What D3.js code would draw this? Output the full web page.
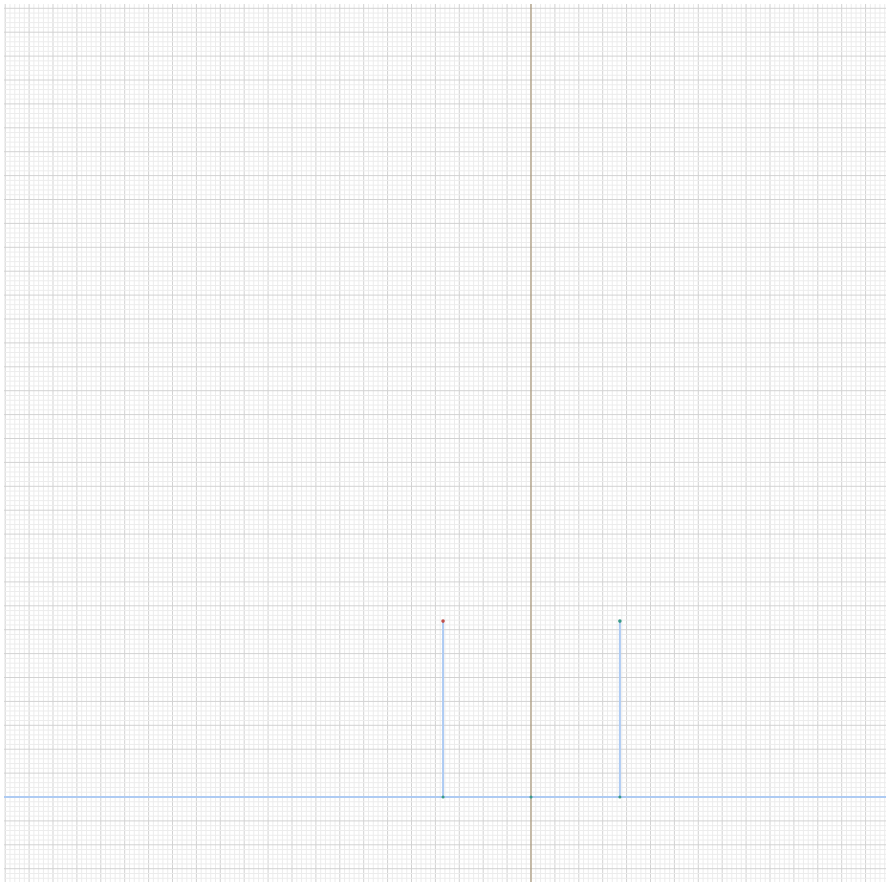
<!DOCTYPE html>
<html>
<head>
<meta charset="utf-8">
<script src="https://cdn.jsdelivr.net/npm/d3@7"></script>
<style>
  body { margin: 0; background: #fff; }
</style>
</head>
<body>
<div id="chart"></div>
<script>
const width = 890;
const height = 882;

const margin = { top: 4, left: 4, bottom: 0, right: 4 };

// data (units = one minor grid step)
const xDomain = [-110.25, 74.27];
const yDomain = [-17.78, 165.9];
const baseLine = 0;
const stems = [
    { x: -18.4, y0: 0, y1: 36.8, topColor: "#c0504d" },
    { x: 18.6, y0: 0, y1: 36.8, topColor: "#3a9a88" }
];
const basePoints = [-18.4, 0, 18.6];

const majorEvery = 5;

const xScale = d3.scaleLinear()
    .domain(xDomain)
    .range([margin.left, width - margin.right]);

const yScale = d3.scaleLinear()
    .domain(yDomain)
    .range([height - margin.bottom, margin.top]);

const svg = d3.select("#chart").append("svg")
    .attr("width", width)
    .attr("height", height);

// grid
const xMinor = d3.range(Math.ceil(xDomain[0]), xDomain[1] + 0.001, 1);
const yMinor = d3.range(Math.ceil(yDomain[0]), yDomain[1] + 0.001, 1);

const grid = svg.append("g").attr("class", "grid");

grid.selectAll(".vx")
    .data(xMinor)
    .join("line")
    .attr("x1", d => xScale(d))
    .attr("x2", d => xScale(d))
    .attr("y1", margin.top)
    .attr("y2", height)
    .attr("stroke", d => d % majorEvery === 0 ? "#d2d2d2" : "#ececec")
    .attr("stroke-width", 1);

grid.selectAll(".hy")
    .data(yMinor)
    .join("line")
    .attr("y1", d => yScale(d))
    .attr("y2", d => yScale(d))
    .attr("x1", margin.left)
    .attr("x2", width - margin.right)
    .attr("stroke", d => d % majorEvery === 0 ? "#d2d2d2" : "#ececec")
    .attr("stroke-width", 1);

// y axis
svg.append("line")
    .attr("x1", xScale(0))
    .attr("x2", xScale(0))
    .attr("y1", margin.top)
    .attr("y2", height)
    .attr("stroke", "#a08a66")
    .attr("stroke-width", 1);

// horizontal line
svg.append("line")
    .attr("x1", margin.left)
    .attr("x2", width - margin.right)
    .attr("y1", yScale(baseLine))
    .attr("y2", yScale(baseLine))
    .attr("stroke", "#aecbf3")
    .attr("stroke-width", 2);

// stems
svg.selectAll(".stem")
    .data(stems)
    .join("line")
    .attr("x1", d => xScale(d.x))
    .attr("x2", d => xScale(d.x))
    .attr("y1", d => yScale(d.y0))
    .attr("y2", d => yScale(d.y1))
    .attr("stroke", "#aecbf3")
    .attr("stroke-width", 2);

svg.selectAll(".base")
    .data(basePoints)
    .join("circle")
    .attr("cx", d => xScale(d))
    .attr("cy", yScale(baseLine))
    .attr("r", 1.5)
    .attr("fill", "#3a9a88");

svg.selectAll(".top")
    .data(stems)
    .join("circle")
    .attr("cx", d => xScale(d.x))
    .attr("cy", d => yScale(d.y1))
    .attr("r", 1.8)
    .attr("fill", d => d.topColor);
</script>
</body>
</html>
